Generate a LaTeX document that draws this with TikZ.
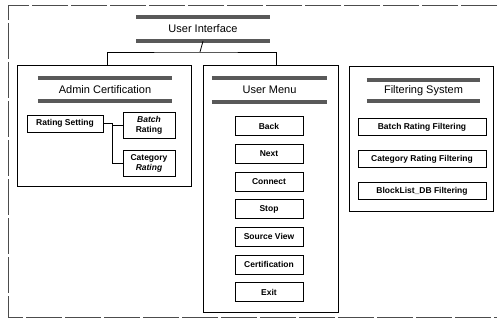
\documentclass[tikz,border=0pt]{standalone}
\usepackage{fontspec}
\setmainfont{Liberation Sans}
\usetikzlibrary{positioning}

\begin{document}
\begin{tikzpicture}[x=1pt,y=-1pt,node distance=27.7pt,
        panel/.style={draw,line width=0.7pt},
        banner/.style={minimum height=24pt,inner sep=0pt,font=\fontsize{11}{13}\selectfont},
        bar/.style={line width=3.8pt,black!65},
        item/.style={draw,line width=0.6pt,minimum width=68pt,minimum height=19pt,
            inner sep=0pt,align=center,font=\bfseries\fontsize{8.5}{10}\selectfont},
        wide/.style={minimum width=128pt,minimum height=17pt},
        link/.style={line width=0.8pt}]

    \useasboundingbox (0,0) rectangle (500,323);
    \draw[black!70,line width=0.6pt,dash pattern=on 36pt off 3pt]
        (497,5) -- (8,5) -- (8,317) -- (497,317);

    % top level
    \node[banner,minimum width=133pt] (ui) at (203,29) {User Interface};
    \coordinate (hub) at (200,52);

    % the three panels
    \node[panel,minimum width=174pt,minimum height=121pt] (admin) at (104,125.5) {};
    \node[panel,minimum width=135pt,minimum height=247pt] (menu) at (270.5,188.5) {};
    \node[panel,minimum width=144pt,minimum height=145pt] (filter) at (421,138.5) {};

    \node[banner,minimum width=134pt,minimum height=23pt] (admint) at (105,89.5) {Admin Certification};
    \node[banner,minimum width=115pt] (menut) at (269.5,90) {User Menu};
    \node[banner,minimum width=113pt,minimum height=21pt] (filtert) at (423.5,90.5) {Filtering System};

    \foreach \t in {ui,admint,menut,filtert} {
        \draw[bar] (\t.north west) -- (\t.north east);
        \draw[bar] (\t.south west) -- (\t.south east);
    }

    \draw[link] (ui.south) -- (hub);
    \draw[link] ([xshift=3pt]admin.north) |- (hub) -| ([xshift=6pt]menu.north);

    % admin certification
    \node[item,minimum width=76pt,minimum height=17pt] (rate) at (65,123.5) {Rating Setting};
    \node[item,minimum width=52pt,minimum height=26pt] (batch) at (149,125) {\textit{Batch}\\Rating};
    \node[item,minimum width=52pt,minimum height=26pt] (cat) at (149,163) {Category\\\textit{Rating}};
    \coordinate (fork) at (112,123.5);

    \draw[link] (rate) -- (fork) |- (batch);
    \draw[link] (fork) |- (cat);

    % user menu
    \node[item] (back) at (269,126) {Back};
    \node[item] (next) [below of=back] {Next};
    \node[item] (conn) [below of=next] {Connect};
    \node[item] (stop) [below of=conn] {Stop};
    \node[item] (src) [below of=stop] {Source View};
    \node[item] (cert) [below of=src] {Certification};
    \node[item] (exit) [below of=cert] {Exit};

    % filtering system
    \node[item,wide] (bfilt) at (422,127) {Batch Rating Filtering};
    \node[item,wide] (cfilt) [below of=bfilt,node distance=32pt] {Category Rating Filtering};
    \node[item,wide] (dbfilt) [below of=cfilt,node distance=32pt] {BlockList\_DB Filtering};

\end{tikzpicture}
\end{document}
